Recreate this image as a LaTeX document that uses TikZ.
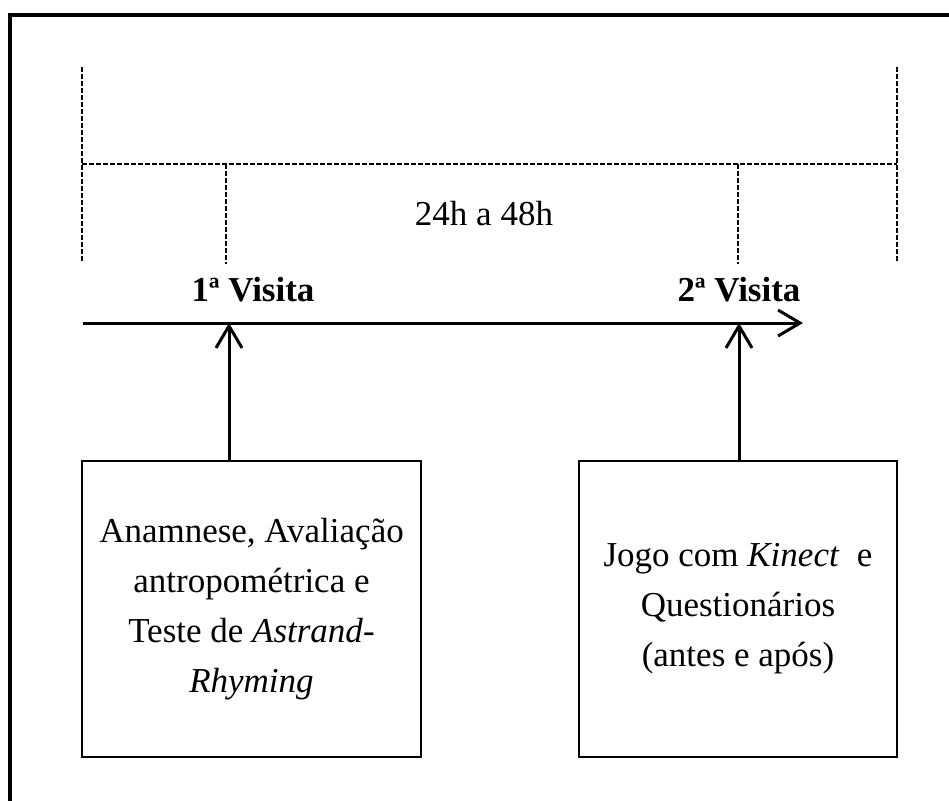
\documentclass[tikz,border=0pt]{standalone}
\usepackage{fontspec}
\setmainfont{Liberation Serif}
\usetikzlibrary{arrows.meta}
\begin{document}
\begin{tikzpicture}[x=1pt,y=-1pt,
  txt/.style={font=\fontsize{35}{50}\selectfont, inner sep=0pt},
  boxnode/.style={draw, line width=2pt, minimum width=#1, minimum height=296pt, align=center, inner sep=0pt, font=\fontsize{35}{50}\selectfont},
  dsh/.style={line width=1.5pt, dash pattern=on 4.5pt off 2.5pt},
  mainarrow/.style={line width=3pt, -{Straight Barb[length=22pt,width=26pt,line width=3pt]}}
]
\useasboundingbox (0,0) rectangle (949,800);
% outer frame (cropped)
\draw[line width=4pt] (10,802) -- (10,15) -- (951,15);
% dashed timeline markers
\coordinate (dl0) at (82,67);
\coordinate (dl1) at (82,262);
\coordinate (dr0) at (897,67);
\coordinate (dr1) at (897,262);
\coordinate (hl) at (82,164);
\coordinate (hr) at (897,164);
\coordinate (m1a) at (226,164);
\coordinate (m1b) at (226,264);
\coordinate (m2a) at (738,164);
\coordinate (m2b) at (738,264);
\draw[dsh] (dl0) -- (dl1);
\draw[dsh] (dr0) -- (dr1);
\draw[dsh] (hl) -- (hr);
\draw[dsh] (m1a) -- (m1b);
\draw[dsh] (m2a) -- (m2b);
\node[txt] (interval) at (484,214) {24h a 48h};
% labels
\node[txt, font=\fontsize{35}{50}\selectfont\bfseries] (v1lab) at (253,290) {1ª Visita};
\node[txt, font=\fontsize{35}{50}\selectfont\bfseries] (v2lab) at (739,290) {2ª Visita};
% main axis
\coordinate (axs) at (83,323);
\coordinate (axe) at (803,323);
\draw[mainarrow] (axs) -- (axe);
\coordinate (v1) at (229,323);
\coordinate (v2) at (739,323);
% boxes
\node[boxnode=339pt] (b1) at (251.5,609) {Anamnese, Avaliação\\antropométrica e\\Teste de \textit{Astrand}-\\\textit{Rhyming}};
\node[boxnode=318pt] (b2) at (738,609) {Jogo com \textit{Kinect}\ \ e\\Questionários\\(antes e após)};
\draw[mainarrow] (v1 |- b1.north) -- (v1);
\draw[mainarrow] (v2 |- b2.north) -- (v2);
\end{tikzpicture}
\end{document}
